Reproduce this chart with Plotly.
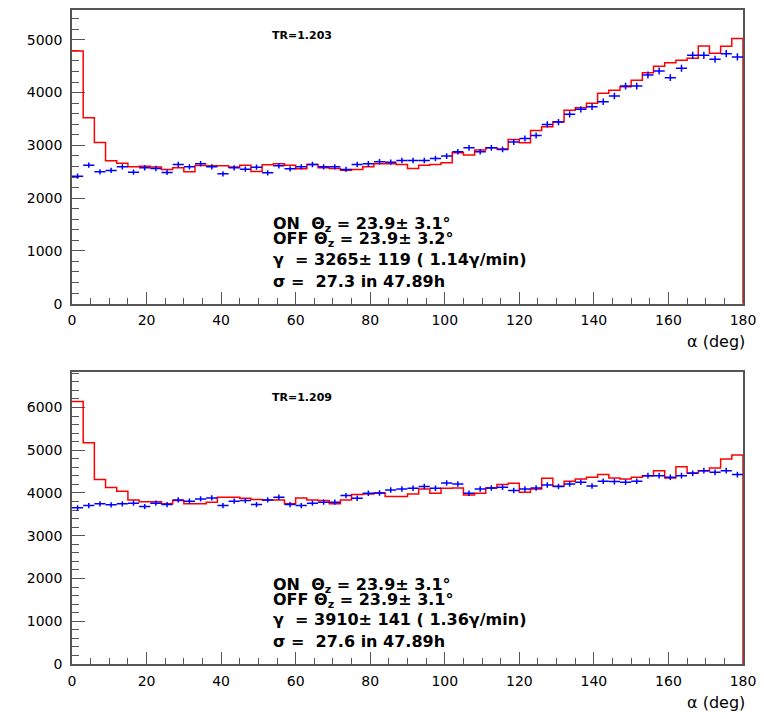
import numpy as np
import plotly.graph_objects as go

# ---------------- data ----------------
bin_edges = list(range(0, 181, 3))          # alpha bins (deg), 60 bins of 3 deg
bin_centers = [e + 1.5 for e in bin_edges[:-1]]

top_on = [4789, 3523, 3056, 2707, 2663, 2593, 2606, 2590, 2543, 2575,
          2498, 2619, 2613, 2613, 2590, 2625, 2505, 2632, 2650, 2625,
          2555, 2638, 2574, 2562, 2530, 2543, 2593, 2650, 2650, 2638,
          2562, 2625, 2638, 2669, 2859, 2815, 2910, 2954, 2930, 3110,
          3049, 3283, 3352, 3447, 3663, 3713, 3796, 3986, 4043, 4112,
          4232, 4377, 4498, 4567, 4612, 4650, 4884, 4745, 4878, 5023]
top_off = [2416, 2625, 2498, 2524, 2593, 2492, 2574, 2562, 2486, 2638,
           2593, 2650, 2593, 2460, 2574, 2549, 2587, 2479, 2613, 2555,
           2593, 2638, 2593, 2593, 2543, 2638, 2650, 2688, 2682, 2714,
           2714, 2714, 2752, 2796, 2878, 2954, 2878, 2954, 2922, 3062,
           3131, 3188, 3397, 3441, 3587, 3682, 3732, 3827, 3935, 4124,
           4124, 4333, 4409, 4283, 4460, 4707, 4707, 4631, 4738, 4675]

bot_on = [6138, 5175, 4312, 4126, 4040, 3838, 3792, 3792, 3745, 3823,
          3745, 3745, 3784, 3900, 3900, 3877, 3846, 3838, 3838, 3745,
          3885, 3838, 3823, 3745, 3838, 3963, 3978, 4001, 3916, 3916,
          3978, 4095, 3993, 4110, 4118, 3955, 3993, 4118, 4196, 4227,
          4017, 4095, 4343, 4157, 4273, 4328, 4367, 4429, 4351, 4328,
          4367, 4405, 4522, 4351, 4615, 4467, 4522, 4584, 4794, 4887]
bot_off = [3652, 3706, 3745, 3722, 3745, 3760, 3683, 3760, 3729, 3838,
           3807, 3861, 3885, 3706, 3807, 3823, 3729, 3838, 3900, 3729,
           3706, 3760, 3784, 3784, 3939, 3877, 3993, 4001, 4071, 4095,
           4110, 4149, 4110, 4234, 4211, 3993, 4095, 4118, 4133, 4056,
           4095, 4118, 4188, 4149, 4211, 4250, 4164, 4273, 4266, 4250,
           4273, 4405, 4405, 4367, 4405, 4460, 4522, 4483, 4522, 4429]

top_tr = "TR=1.203"
bot_tr = "TR=1.209"
top_text = ["ON  Θ<sub>z</sub> = 23.9± 3.1°",
            "OFF Θ<sub>z</sub> = 23.9± 3.2°",
            "γ  = 3265± 119 ( 1.14γ/min)",
            "σ =  27.3 in 47.89h"]
bot_text = ["ON  Θ<sub>z</sub> = 23.9± 3.1°",
            "OFF Θ<sub>z</sub> = 23.9± 3.1°",
            "γ  = 3910± 141 ( 1.36γ/min)",
            "σ =  27.6 in 47.89h"]
x_title = "α (deg)"

# ---------------- figure ----------------
fig = go.Figure()

def add_panel(on, off, xa, ya):
    xs = bin_edges + [180]
    ys = on + [on[-1], 0]
    fig.add_trace(go.Scatter(x=xs, y=ys, mode="lines", line_shape="hv",
                             line=dict(color="#ff0000", width=1.5),
                             xaxis=xa, yaxis=ya, showlegend=False, hoverinfo="skip"))
    fig.add_trace(go.Scatter(x=bin_centers, y=off, mode="markers",
                             marker=dict(size=1, color="#0000ff"),
                             error_x=dict(type="constant", value=1.5, width=0,
                                          color="#0000ff", thickness=1.5),
                             error_y=dict(type="data", array=np.sqrt(off), width=0,
                                          color="#0000ff", thickness=1.5),
                             xaxis=xa, yaxis=ya, showlegend=False))

add_panel(top_on, top_off, "x", "y")
add_panel(bot_on, bot_off, "x2", "y2")

axcol = "#555555"
tickfont = dict(family="DejaVu Sans", size=14, color="black")
xcommon = dict(range=[0, 180], tickvals=list(range(0, 181, 20)), ticks="inside",
               ticklen=12, tickwidth=1, tickcolor=axcol, showline=True, linecolor=axcol,
               linewidth=1.5, mirror=True, showgrid=False, zeroline=False,
               minor=dict(dtick=5, ticks="inside", ticklen=6, tickcolor=axcol, showgrid=False),
               tickfont=tickfont, ticklabelstandoff=3, ticklabeloverflow="allow",
               layer="below traces")
ycommon = dict(ticks="inside", ticklen=13, tickwidth=1, tickcolor=axcol, showline=True,
               linecolor=axcol, linewidth=1.5, mirror=True, showgrid=False, zeroline=False,
               dtick=1000, minor=dict(dtick=200, ticks="inside", ticklen=7, tickcolor=axcol,
                                      showgrid=False),
               tickfont=tickfont, ticklabelstandoff=5, layer="below traces")

fig.update_layout(
    width=764, height=719,
    margin=dict(l=72, r=20, t=8, b=55),
    paper_bgcolor="white", plot_bgcolor="white",
    xaxis=dict(domain=[0, 1], anchor="y", **xcommon),
    yaxis=dict(domain=[0.551, 1.0], anchor="x", range=[0, 5565], **ycommon),
    xaxis2=dict(domain=[0, 1], anchor="y2", **xcommon),
    yaxis2=dict(domain=[0, 0.447], anchor="x2", range=[0, 6837], **ycommon),
)

ann = []
fracs = [0.2700, 0.2180, 0.152, 0.0771]
for ysuf, texts, tr in [("", top_text, top_tr), ("2", bot_text, bot_tr)]:
    xr = "x" + ysuf + " domain"
    yr = "y" + ysuf + " domain"
    ann.append(dict(text=tr, xref=xr, yref=yr, x=0.3426, y=0.913, showarrow=False,
                    xanchor="center", yanchor="middle",
                    font=dict(family="DejaVu Sans", size=11, color="black", weight="bold")))
    for t, f in zip(texts, fracs):
        ann.append(dict(text=t, xref=xr, yref=yr, x=0.296, y=f, showarrow=False,
                        xanchor="left", yanchor="middle",
                        font=dict(family="DejaVu Sans", size=16, color="black", weight="bold")))
    ann.append(dict(text=x_title, xref=xr, yref=yr, x=1.006, y=-0.13, showarrow=False,
                    xanchor="right", yanchor="middle",
                    font=dict(family="DejaVu Sans", size=16, color="black")))
fig.update_layout(annotations=ann)

fig.write_html("out.html", config={"displayModeBar": False},
               post_script="document.body.style.margin='0';")
